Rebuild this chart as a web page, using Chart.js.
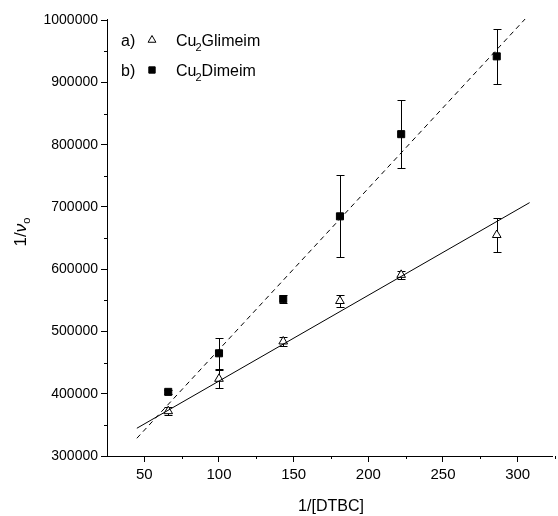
<!DOCTYPE html>
<html lang="en">
<head>
<meta charset="UTF-8">
<title>1/vo vs 1/[DTBC]</title>
<script src="https://cdn.jsdelivr.net/npm/chart.js@4.4.1/dist/chart.umd.min.js"></script>
<style>
  html, body { margin: 0; padding: 0; background: #fff; }
  #wrap { width: 558px; height: 516px; }
</style>
</head>
<body>
<div id="wrap"><canvas id="canvas"></canvas></div>
<script>
// data
const xVals = [66, 100, 143, 181, 222, 286];
const gliVals = [372000, 424000, 484000, 549000, 591000, 655000];   // a) Cu2Glimeim
const gliErr = [6000, 14000, 7000, 10000, 6000, 27000];
const dimVals = [403000, 465000, 552000, 685000, 817000, 942000];   // b) Cu2Dimeim
const dimErr = [3000, 25000, 7000, 66000, 55000, 44000];
// linear fits, end points
const gliFitX = [45, 308];
const gliFitY = [344600, 707000];
const dimFitX = [45, 305];
const dimFitY = [328500, 1002000];
const xTicks = [50, 100, 150, 200, 250, 300];
const yTicks = [300000, 400000, 500000, 600000, 700000, 800000, 900000, 1000000];

const FONT = "'Liberation Sans', Arial, sans-serif";

function pts(xs, ys) {
    return xs.map((x, i) => ({ x: x, y: ys[i] }));
}

// error bars, drawn under the markers
const errorBars = {
    id: 'errorBars',
    beforeDatasetsDraw(chart) {
        const ctx = chart.ctx;
        const xs = chart.scales.x, ys = chart.scales.y;
        ctx.save();
        ctx.strokeStyle = '#000';
        ctx.lineWidth = 1;
        [[gliVals, gliErr], [dimVals, dimErr]].forEach(([vals, errs]) => {
            vals.forEach((v, i) => {
                const px = Math.round(xs.getPixelForValue(xVals[i])) + 0.5;
                const top = Math.round(ys.getPixelForValue(v + errs[i])) + 0.5;
                const bot = Math.round(ys.getPixelForValue(v - errs[i])) + 0.5;
                ctx.beginPath();
                ctx.moveTo(px, top); ctx.lineTo(px, bot);
                ctx.moveTo(px - 4, top); ctx.lineTo(px + 4, top);
                ctx.moveTo(px - 4, bot); ctx.lineTo(px + 4, bot);
                ctx.stroke();
            });
        });
        ctx.restore();
    }
};

// minor ticks, axis titles with subscripts and the legend
const extras = {
    id: 'extras',
    afterDraw(chart) {
        const ctx = chart.ctx;
        const xs = chart.scales.x, ys = chart.scales.y;
        const area = chart.chartArea;
        ctx.save();
        ctx.strokeStyle = '#000';
        ctx.lineWidth = 1;
        ctx.beginPath();
        for (let v = 75; v <= 325; v += 50) {
            const px = Math.round(xs.getPixelForValue(v)) + 0.5;
            ctx.moveTo(px, area.bottom); ctx.lineTo(px, area.bottom + 3);
        }
        for (let v = 350000; v <= 1000000; v += 100000) {
            const py = Math.round(ys.getPixelForValue(v)) + 0.5;
            ctx.moveTo(area.left, py); ctx.lineTo(area.left - 3, py);
        }
        ctx.stroke();

        ctx.fillStyle = '#000';
        ctx.textBaseline = 'alphabetic';

        // x title
        ctx.font = '16px ' + FONT;
        ctx.textAlign = 'center';
        ctx.fillText('1/[DTBC]', 331, 511);

        // y title 1/νo
        ctx.save();
        ctx.translate(26, 232);
        ctx.rotate(-Math.PI / 2);
        ctx.textAlign = 'left';
        ctx.font = '17px ' + FONT;
        const t1 = '1/';
        const t2 = 'ν';
        const w1 = ctx.measureText(t1).width;
        ctx.font = 'italic 17px ' + FONT;
        const w2 = ctx.measureText(t2).width;
        ctx.font = '11px ' + FONT;
        const w3 = ctx.measureText('o').width;
        const start = -(w1 + w2 + w3) / 2;
        ctx.font = '17px ' + FONT;
        ctx.fillText(t1, start, 0);
        ctx.font = 'italic 17px ' + FONT;
        ctx.fillText(t2, start + w1, 0);
        ctx.font = '11px ' + FONT;
        ctx.fillText('o', start + w1 + w2, 4);
        ctx.restore();

        // legend
        const rows = [
            { tag: 'a)', pre: 'Cu', post: 'Glimeim', style: 'triangle', fill: '#fff', r: 4.5, y: 46 },
            { tag: 'b)', pre: 'Cu', post: 'Dimeim', style: 'rect', fill: '#000', r: 4.5, y: 76 }
        ];
        rows.forEach(row => {
            ctx.font = '16px ' + FONT;
            ctx.textAlign = 'left';
            ctx.fillText(row.tag, 121, row.y);
            ctx.fillStyle = row.fill;
            ctx.strokeStyle = '#000';
            ctx.lineWidth = 1;
            Chart.helpers.drawPoint(ctx, { pointStyle: row.style, radius: row.r, borderWidth: 1, rotation: 0 }, 152, row.y - 6);
            ctx.fillStyle = '#000';
            let x = 176;
            ctx.font = '16px ' + FONT;
            ctx.fillText(row.pre, x, row.y);
            x += ctx.measureText(row.pre).width;
            ctx.font = '11px ' + FONT;
            ctx.fillText('2', x - 1, row.y + 5);
            x += ctx.measureText('2').width - 1;
            ctx.font = '16px ' + FONT;
            ctx.fillText(row.post, x, row.y);
        });
        ctx.restore();
    }
};

const ctx = document.getElementById('canvas').getContext('2d');
const chart = new Chart(ctx, {
    type: 'scatter',
    data: {
        datasets: [
            {
                type: 'line',
                label: 'fit a',
                data: pts(gliFitX, gliFitY),
                borderColor: '#000',
                borderWidth: 1,
                pointRadius: 0,
                fill: false
            },
            {
                type: 'line',
                label: 'fit b',
                data: pts(dimFitX, dimFitY),
                borderColor: '#000',
                borderWidth: 1,
                borderDash: [5, 4],
                pointRadius: 0,
                fill: false
            },
            {
                label: 'Cu2Glimeim',
                data: pts(xVals, gliVals),
                pointStyle: 'triangle',
                pointRadius: 5,
                backgroundColor: '#fff',
                borderColor: '#000',
                borderWidth: 1
            },
            {
                label: 'Cu2Dimeim',
                data: pts(xVals, dimVals),
                pointStyle: 'rect',
                pointRadius: 5,
                backgroundColor: '#000',
                borderColor: '#000',
                borderWidth: 1
            }
        ]
    },
    options: {
        responsive: true,
        maintainAspectRatio: false,
        animation: false,
        layout: { padding: { top: 19, right: 3, left: 0, bottom: 0 } },
        plugins: {
            legend: { display: false },
            tooltip: { enabled: false }
        },
        scales: {
            x: {
                type: 'linear',
                min: 25,
                max: 323,
                afterBuildTicks: axis => { axis.ticks = xTicks.map(v => ({ value: v })); },
                afterFit: axis => { axis.height = 60; },
                grid: { drawOnChartArea: false, drawTicks: true, tickLength: 6, color: '#000' },
                border: { display: true, color: '#000', width: 1 },
                ticks: { color: '#000', font: { family: FONT, size: 15 }, padding: 4, maxRotation: 0,
                         callback: v => String(v) }
            },
            y: {
                type: 'linear',
                min: 300000,
                max: 1002000,
                afterBuildTicks: axis => { axis.ticks = yTicks.map(v => ({ value: v })); },
                afterFit: axis => { axis.width = 107; },
                grid: { drawOnChartArea: false, drawTicks: true, tickLength: 6, color: '#000' },
                border: { display: true, color: '#000', width: 1 },
                ticks: { color: '#000', font: { family: FONT, size: 14 }, padding: 3,
                         callback: v => String(v) }
            }
        }
    },
    plugins: [errorBars, extras]
});
</script>
</body>
</html>
